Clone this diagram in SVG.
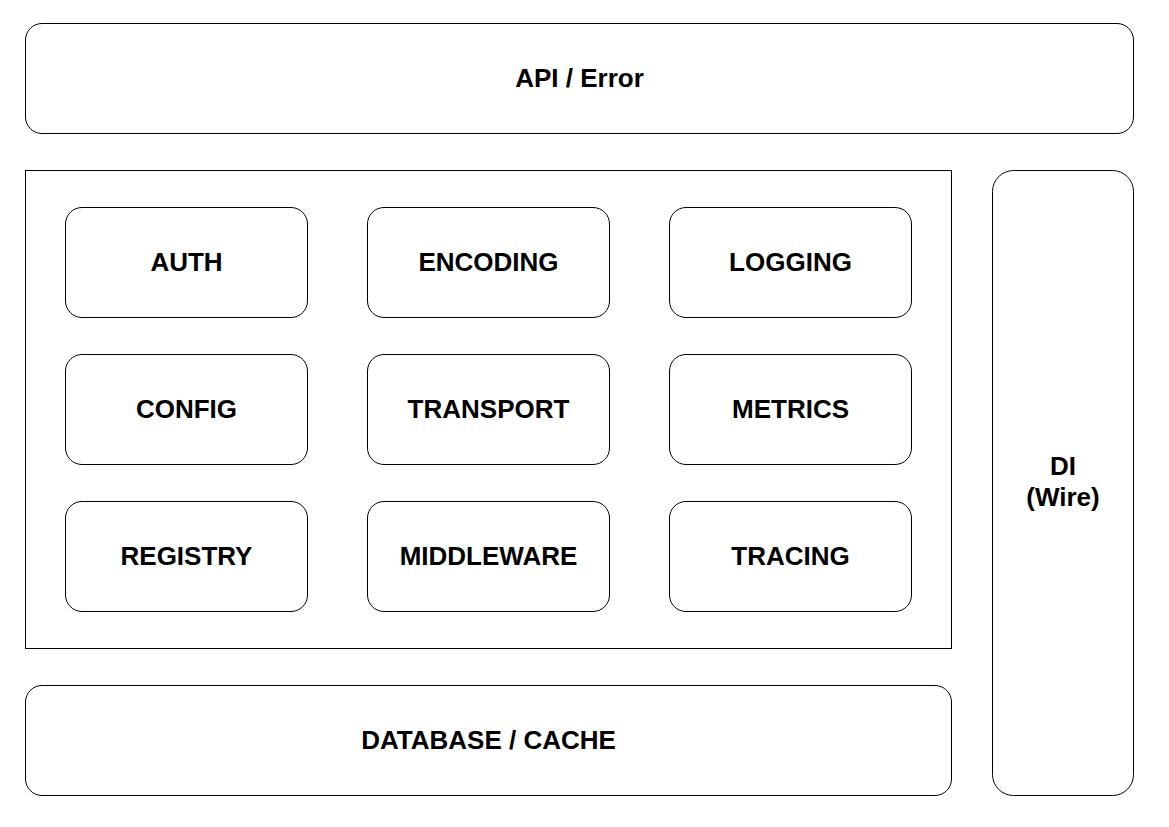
<svg xmlns="http://www.w3.org/2000/svg" width="1169" height="827" viewBox="0 0 1169 827">
<style>
.box{fill:#fff;stroke:#000;stroke-width:1}
.lbl{font-family:"Liberation Sans",Arial,sans-serif;font-weight:bold;font-size:26px;fill:#000;text-anchor:middle;dominant-baseline:central}
</style>
<rect width="1169" height="827" fill="#fff"/>
<g id="api"><rect class="box" x="25.5" y="23.5" width="1108" height="110" rx="16.5"/><text class="lbl" x="579.5" y="77.5">API / Error</text></g>
<g id="core"><rect class="box" x="25.5" y="170.5" width="926" height="478"/></g>
<g id="auth"><rect class="box" x="65.5" y="207.5" width="242" height="110" rx="16.5"/><text class="lbl" x="186.5" y="261.5">AUTH</text></g>
<g id="encoding"><rect class="box" x="367.5" y="207.5" width="242" height="110" rx="16.5"/><text class="lbl" x="488.5" y="261.5">ENCODING</text></g>
<g id="logging"><rect class="box" x="669.5" y="207.5" width="242" height="110" rx="16.5"/><text class="lbl" x="790.5" y="261.5">LOGGING</text></g>
<g id="config"><rect class="box" x="65.5" y="354.5" width="242" height="110" rx="16.5"/><text class="lbl" x="186.5" y="408.5">CONFIG</text></g>
<g id="transport"><rect class="box" x="367.5" y="354.5" width="242" height="110" rx="16.5"/><text class="lbl" x="488.5" y="408.5">TRANSPORT</text></g>
<g id="metrics"><rect class="box" x="669.5" y="354.5" width="242" height="110" rx="16.5"/><text class="lbl" x="790.5" y="408.5">METRICS</text></g>
<g id="registry"><rect class="box" x="65.5" y="501.5" width="242" height="110" rx="16.5"/><text class="lbl" x="186.5" y="555.5">REGISTRY</text></g>
<g id="middleware"><rect class="box" x="367.5" y="501.5" width="242" height="110" rx="16.5"/><text class="lbl" x="488.5" y="555.5">MIDDLEWARE</text></g>
<g id="tracing"><rect class="box" x="669.5" y="501.5" width="242" height="110" rx="16.5"/><text class="lbl" x="790.5" y="555.5">TRACING</text></g>
<g id="database"><rect class="box" x="25.5" y="685.5" width="926" height="110" rx="16.5"/><text class="lbl" x="488.5" y="739.5">DATABASE / CACHE</text></g>
<g id="di"><rect class="box" x="992.5" y="170.5" width="141" height="625" rx="21"/><text class="lbl" x="1063" y="466">DI</text><text class="lbl" x="1063" y="497">(Wire)</text></g>
<g id="connectors"></g>
</svg>
